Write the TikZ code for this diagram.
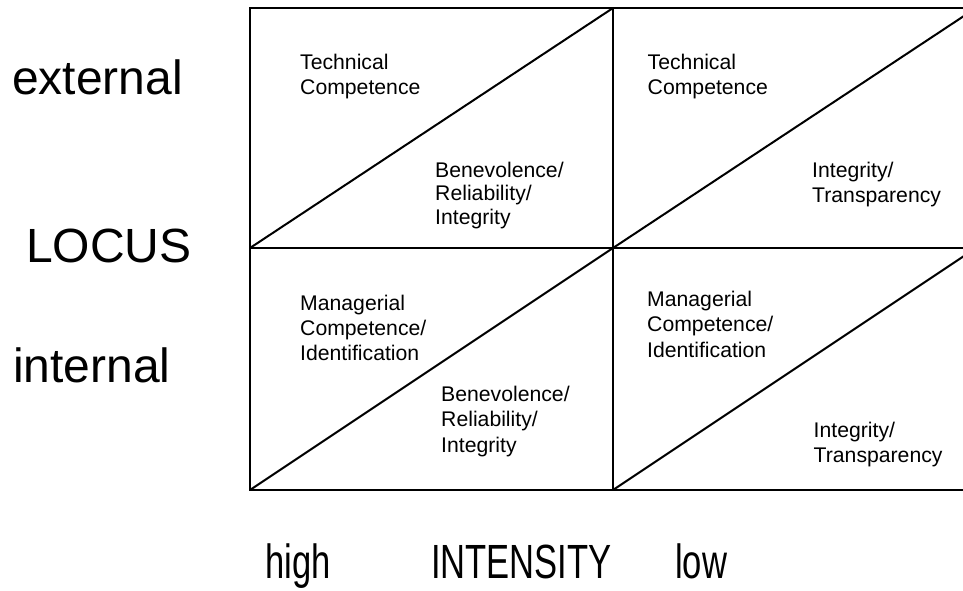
\documentclass[tikz,border=0pt]{standalone}
\usepackage{fontspec}
\setmainfont{Liberation Sans}
\newcommand\celltxt[2]{\fontsize{21.2}{#1}\selectfont\begin{tabular}[t]{@{}l@{}}#2\end{tabular}}
\begin{document}
\begin{tikzpicture}[x=1pt,y=-1pt,
  gridline/.style={line width=2pt},
  small/.style={anchor=base west, inner sep=0pt},
  big/.style={anchor=base west, inner sep=0pt, font=\fontsize{48}{56}\selectfont},
  bigc/.style={big, xscale=0.72}]
\useasboundingbox (0,0) rectangle (963,590);
\clip (0,0) rectangle (963,590);
% grid
\draw[gridline] (250,8) rectangle (976,490);
\draw[gridline] (250,248) -- (976,248);
\draw[gridline] (613,8) -- (613,490);
% diagonals
\draw[gridline] (250,248) -- (613,8);
\draw[gridline] (613,248) -- (976,8);
\draw[gridline] (250,490) -- (613,248);
\draw[gridline] (613,490) -- (976,248);
% cell texts
\node[small] (tlu) at (300,69) {\celltxt{25}{Technical\\Competence}};
\node[small] (tll) at (435,177) {\celltxt{23.5}{Benevolence/\\Reliability/\\Integrity}};
\node[small] (tru) at (647.5,69) {\celltxt{25}{Technical\\Competence}};
\node[small] (trl) at (812,177) {\celltxt{25}{Integrity/\\Transparency}};
\node[small] (blu) at (300,310) {\celltxt{25}{Managerial\\Competence/\\Identification}};
\node[small] (bll) at (441,401) {\celltxt{25.5}{Benevolence/\\Reliability/\\Integrity}};
\node[small] (bru) at (647,306) {\celltxt{25.5}{Managerial\\Competence/\\Identification}};
\node[small] (brl) at (813.5,437) {\celltxt{25}{Integrity/\\Transparency}};
% axis labels
\node[big] (ext) at (12,94) {external};
\node[big] (locus) at (26,262) {LOCUS};
\node[big] (int) at (13,382) {internal};
\node[bigc] (high) at (265,578) {high};
\node[bigc] (inten) at (431,578) {INTENSITY};
\node[bigc] (low) at (675,578) {low};
\end{tikzpicture}
\end{document}
